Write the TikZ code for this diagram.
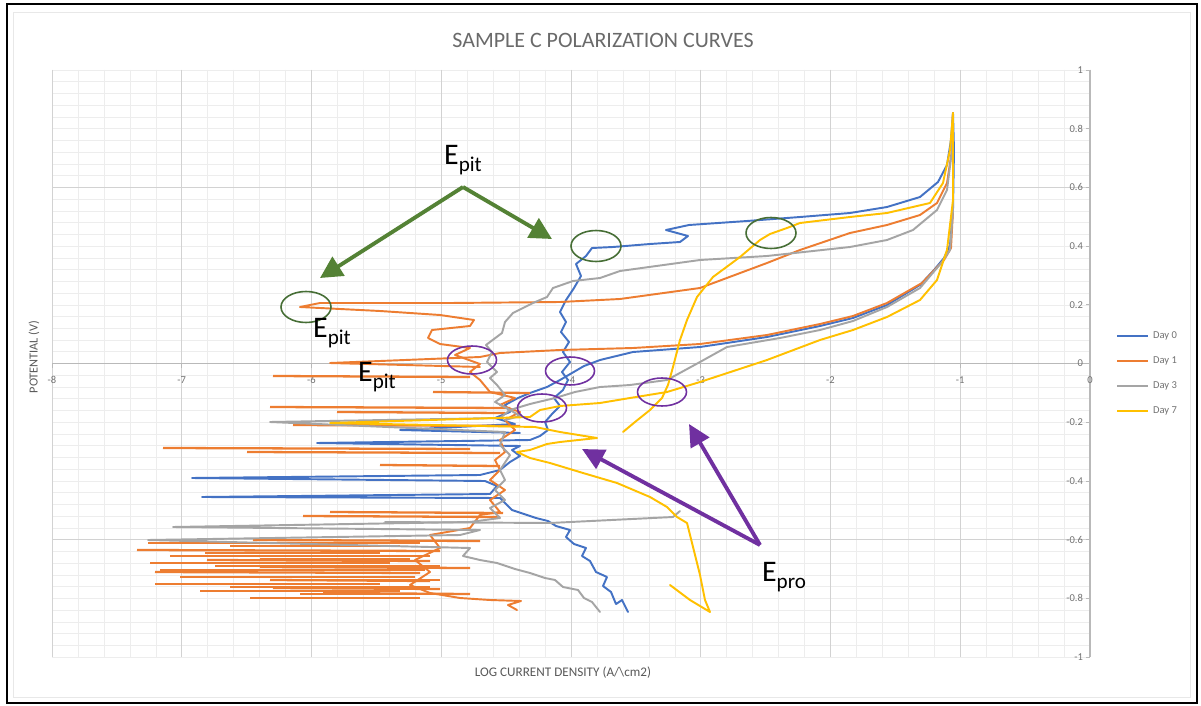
\documentclass[tikz,border=0pt]{standalone}
\usepackage{fontspec}
\setmainfont{Carlito}
\usetikzlibrary{arrows.meta,shapes.geometric,positioning}

\definecolor{dayzero}{HTML}{4472C4}
\definecolor{dayone}{HTML}{ED7D31}
\definecolor{daythree}{HTML}{A5A5A5}
\definecolor{dayseven}{HTML}{FFC000}
\definecolor{pitgreen}{HTML}{548235}
\definecolor{ringgreen}{HTML}{466E35}
\definecolor{propurple}{HTML}{7030A0}
\definecolor{axisgray}{HTML}{595959}

\newcommand{\Epit}{E\raisebox{-0.45ex}{\fontsize{12}{12}\selectfont pit}}
\newcommand{\Epro}{E\raisebox{-0.45ex}{\fontsize{12}{12}\selectfont pro}}

\begin{document}
\begin{tikzpicture}[x=0.02cm,y=-0.02cm]
	\tikzstyle{minorgrid}=[draw=gray!14, line width=0.3pt]
	\tikzstyle{majorgrid}=[draw=gray!35, line width=0.5pt]
	\tikzstyle{ticklab}=[text=axisgray!85, font=\fontsize{6}{7}\selectfont, inner sep=1pt]
	\tikzstyle{curve}=[line width=1.1pt, line join=round, line cap=round]
	\tikzstyle{spike}=[line width=1.3pt]
	\tikzstyle{callout}=[font=\fontsize{17}{20}\selectfont, inner sep=0pt]
	\tikzstyle{ringg}=[draw=ringgreen, ellipse, line width=0.9pt, minimum width=1cm, minimum height=0.62cm, inner sep=0pt]
	\tikzstyle{ringp}=[draw=propurple, ellipse, line width=0.9pt, minimum width=0.98cm, minimum height=0.56cm, inner sep=0pt]
	\tikzstyle{gnarrow}=[draw=pitgreen, line width=2.2pt, -{Triangle[length=0.44cm,width=0.44cm]}]
	\tikzstyle{prarrow}=[draw=propurple, line width=2.2pt, -{Triangle[length=0.44cm,width=0.42cm]}]

	\useasboundingbox (0,0) rectangle (1201,706);
	\fill[white] (0,0) rectangle (1201,706);
	\draw[gray!18, line width=0.4pt] (13,12) rectangle (1190,697);
	\draw[black, line width=1.5pt] (7,4) rectangle (1197,703);

	% grid
	\foreach \i in {0,...,40}
		\draw[minorgrid] ({52+25.95*\i},70) -- ({52+25.95*\i},657);
	\foreach \j in {0,...,50}
		\draw[minorgrid] (52,{70+11.74*\j}) -- (1090,{70+11.74*\j});
	\foreach \i in {0,...,8}
		\draw[majorgrid] ({52+129.75*\i},70) -- ({52+129.75*\i},657);
	\foreach \v in {0.6,-0.6}
		\draw[majorgrid] (52,{363.5-293.5*\v}) -- (1090,{363.5-293.5*\v});
	\draw[gray!55, line width=0.6pt] (52,363.5) -- (1090,363.5);
	\draw[gray!55, line width=0.6pt] (1090,70) -- (1090,657);

	% axis labels
	\foreach \v/\t [count=\n] in {1/1,0.8/0.8,0.6/0.6,0.4/0.4,0.2/0.2,0/0,-0.2/-0.2,-0.4/-0.4,-0.6/-0.6,-0.8/-0.8,-1/-1} {
		\draw[gray!55] (1086,{363.5-293.5*\v}) -- (1090,{363.5-293.5*\v});
		\node[ticklab, anchor=east] (ytick\n) at (1085,{363.5-293.5*\v}) {\t};
	}
	\foreach \t [count=\n] in {-8,-7,-6,-5,-4,-3,-2,-1,0} {
		\draw[gray!55] ({52+129.75*(\n-1)},363.5) -- ({52+129.75*(\n-1)},367.5);
		\node[ticklab] (xtick\n) at ({52+129.75*(\n-1)},380) {\t};
	}

	\node[text=axisgray!90, font=\fontsize{12.5}{14}\selectfont] (title) at (603,40) {SAMPLE C POLARIZATION CURVES};
	\node[text=axisgray, rotate=90, font=\fontsize{7}{8}\selectfont] (ylabel) at (34,357) {POTENTIAL (V)};
	\node[text=axisgray, font=\fontsize{7.5}{9}\selectfont] (xlabel) at (563,673) {LOG CURRENT DENSITY (A/\textbackslash cm2)};

	% Day 0
	\draw[curve, dayzero] (628,612) -- (622,600) -- (616,604) -- (611,592) -- (603,586) -- (607,577) -- (596,572) -- (590,561) -- (582,556) -- (586,548) -- (574,544) -- (566,537) -- (570,530) -- (556,526) -- (548,521) -- (536,518) -- (524,514) -- (512,510) -- (505,503) -- (500,498) -- (202,497) -- (490,494) -- (497,486) -- (485,481) -- (192,478) -- (480,475) -- (500,470) -- (510,462) -- (520,456) -- (512,450) -- (520,446) -- (317,443) -- (530,440) -- (540,436) -- (548,430) -- (545,422) -- (552,414) -- (560,406) -- (554,398) -- (563,390) -- (568,380) -- (562,372) -- (570,362) -- (563,352) -- (569,342) -- (561,332) -- (566,322) -- (560,312) -- (566,300) -- (574,288) -- (581,276) -- (576,264) -- (586,256) -- (592,248) -- (613,247) -- (650,244) -- (680,242) -- (688,236) -- (666,230) -- (689,225) -- (747,221) -- (800,217) -- (850,213) -- (887,207) -- (920,197) -- (938,182) -- (947,165) -- (951,140) -- (953,113);
	\draw[curve, dayzero] (953,113) -- (954,150) -- (953,210) -- (950,245) -- (944,258) -- (934,270) -- (920,285) -- (887,305) -- (853,318) -- (820,326) -- (767,337) -- (700,347) -- (633,352) -- (600,360) -- (584,366) -- (572,373) -- (560,380) -- (547,387) -- (530,393) -- (518,398) -- (505,405) -- (510,412) -- (495,418) -- (515,424) -- (400,430) -- (520,433);

	% Day 1
	\draw[curve, dayone] (517,610) -- (508,605) -- (521,601) -- (490,600) -- (460,598) -- (430,593) -- (410,585) -- (430,572) -- (415,560) -- (440,548) -- (430,535) -- (470,528) -- (480,515) -- (500,512) -- (490,500) -- (505,490) -- (490,480) -- (500,470) -- (495,460) -- (505,452) -- (500,440) -- (515,430) -- (505,420) -- (520,412) -- (500,405) -- (515,398) -- (490,392) -- (480,380) -- (470,372) -- (480,364) -- (455,355) -- (470,348) -- (440,344) -- (428,338) -- (432,330) -- (470,326) -- (474,320) -- (440,315) -- (380,311) -- (300,307) -- (320,303) -- (450,303) -- (560,302) -- (620,299) -- (700,288) -- (767,263) -- (800,250) -- (850,233) -- (887,225) -- (920,215) -- (937,203) -- (947,183) -- (952,150) -- (953,113);
	\draw[curve, dayone] (953,113) -- (953,210) -- (951,248) -- (944,260) -- (922,283) -- (887,303) -- (853,316) -- (820,324) -- (767,335) -- (700,344) -- (633,348) -- (560,350) -- (500,353) -- (480,357) -- (330,363) -- (480,367);
	\foreach \l/\r/\y in {273/470/376, 433/530/392, 270/510/407, 337/505/412, 293/520/425, 163/470/448, 247/500/452, 380/500/465, 330/503/512, 303/500/516, 253/480/540, 137/440/550, 207/430/560, 260/470/567, 155/420/572, 270/430/580, 273/440/588, 323/470/593}
		\draw[spike, dayone] (\l,\y) -- (\r,\y+1);
	\foreach \y/\l/\r in {543/148/420, 546/230/400, 553/205/380, 556/170/430, 559/260/410, 563/150/390, 566/215/440, 570/160/425, 577/180/415, 580/270/440, 584/155/380, 587/230/430, 591/200/400, 594/300/450, 598/250/420}
		\draw[line width=1.2pt, dayone] (\l,\y) -- (\r,\y);

	% Day 3
	\draw[curve, daythree] (600,612) -- (592,602) -- (584,598) -- (578,590) -- (563,587) -- (555,580) -- (545,578) -- (530,573) -- (515,569) -- (497,563) -- (480,560) -- (463,556) -- (470,548) -- (148,540) -- (460,535) -- (480,530) -- (173,527) -- (470,522) -- (500,518) -- (490,508) -- (505,500) -- (495,490) -- (505,480) -- (500,470) -- (510,455) -- (500,445) -- (505,432) -- (270,422) -- (500,418) -- (510,410) -- (495,402) -- (505,395) -- (497,385) -- (490,378) -- (497,372) -- (487,362) -- (492,352) -- (486,345) -- (502,333) -- (505,322) -- (513,313) -- (533,303) -- (547,297) -- (553,288) -- (573,281) -- (600,278) -- (620,271) -- (700,260) -- (767,256) -- (850,247) -- (887,240) -- (913,230) -- (937,210) -- (947,190) -- (952,150) -- (953,113);
	\draw[curve, daythree] (953,113) -- (953,210) -- (950,250) -- (942,262) -- (920,288) -- (887,307) -- (853,321) -- (820,330) -- (780,338) -- (727,347) -- (700,362) -- (667,380) -- (630,385) -- (600,387) -- (575,392) -- (555,398) -- (530,404) -- (510,410) -- (520,416) -- (505,420);
	\draw[curve, daythree] (385,522) -- (550,523) -- (673,517) -- (680,511);

	% Day 7
	\draw[curve, dayseven] (953,113) -- (953,200) -- (947,250) -- (937,280) -- (920,300) -- (887,317) -- (853,330) -- (820,340) -- (767,360) -- (700,382) -- (667,392) -- (630,398) -- (600,403) -- (560,406) -- (540,410) -- (530,417) -- (330,423) -- (535,427) -- (560,432) -- (597,438) -- (560,442) -- (547,444) -- (530,450) -- (517,452) -- (530,458) -- (550,463) -- (583,473) -- (617,483) -- (650,497) -- (667,507) -- (677,517) -- (687,523) -- (693,547) -- (700,575) -- (705,600) -- (710,612) -- (690,600) -- (670,585);
	\draw[curve, dayseven] (623,432) -- (635,422) -- (650,410) -- (662,398) -- (668,385) -- (673,367) -- (680,340) -- (687,320) -- (697,297) -- (713,277) -- (740,257) -- (760,240) -- (770,234) -- (787,228) -- (800,223) -- (850,217) -- (887,213) -- (930,203) -- (943,183) -- (950,150) -- (953,113);

	% legend
	\foreach \c/\t [count=\n] in {dayzero/Day 0, dayone/Day 1, daythree/Day 3, dayseven/Day 7} {
		\draw[\c, line width=1.1pt] (1117,{311+25*\n}) -- (1148,{311+25*\n});
		\node[ticklab, anchor=west] (leg\n) at (1151,{311+25*\n}) {\t};
	}

	% annotations
	\node[ringg] (ring0) at (596,246) {};
	\node[ringg] (ring7) at (771,233) {};
	\node[ringg] (ring1) at (306,307) {};
	\node[ringp] (pro1) at (472,360) {};
	\node[ringp] (pro0) at (570,371) {};
	\node[ringp] (pro3) at (542,408) {};
	\node[ringp] (pro7) at (662,392) {};

	\node[callout] (pittop) at (463,160) {\Epit};
	\node[callout] (pitleft) at (332,333) {\Epit};
	\node[callout] (pitmid) at (377,377) {\Epit};
	\node[callout] (protag) at (784,577) {\Epro};

	\coordinate (gapex) at (463,187);
	\coordinate (gleft) at (320,278);
	\coordinate (gright) at (552,239);
	\coordinate (papex) at (760,545);
	\coordinate (pleft) at (582,449);
	\coordinate (pright) at (689,424);
	\draw[gnarrow] (gapex) -- (gleft);
	\draw[gnarrow] (gapex) -- (gright);
	\draw[prarrow] (papex) -- (pleft);
	\draw[prarrow] (papex) -- (pright);
\end{tikzpicture}
\end{document}
